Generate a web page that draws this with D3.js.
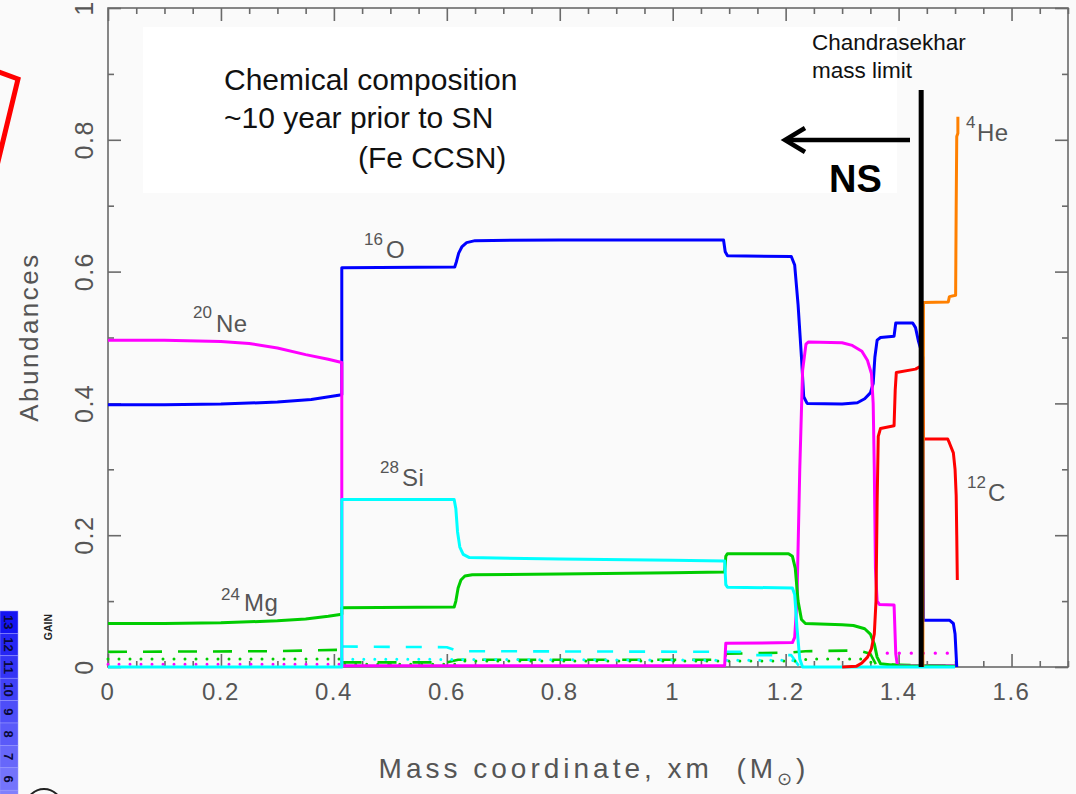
<!DOCTYPE html>
<html>
<head>
<meta charset="utf-8">
<script src="https://cdn.jsdelivr.net/npm/d3@7"></script>
<style>
  html, body { margin: 0; padding: 0; background: #fafafa; }
  svg { display: block; }
</style>
</head>
<body>
<svg id="chart" width="1076" height="794"></svg>
<script>
// Abundance profiles [mass coordinate (Msun), mass fraction]
const o16 = [[0,0.398],[0.1,0.398],[0.2,0.399],[0.3,0.402],[0.36,0.406],[0.414,0.413],[0.414,0.606],[0.614,0.607],[0.617,0.615],[0.621,0.628],[0.627,0.638],[0.635,0.644],[0.65,0.647],[0.8,0.648],[1.09,0.648],[1.093,0.63],[1.097,0.624],[1.21,0.623],[1.216,0.61],[1.222,0.55],[1.228,0.47],[1.232,0.41],[1.238,0.4],[1.3,0.399],[1.327,0.401],[1.34,0.407],[1.35,0.416],[1.355,0.43],[1.358,0.47],[1.362,0.496],[1.368,0.5],[1.392,0.502],[1.395,0.522],[1.425,0.522],[1.43,0.515],[1.435,0.495],[1.44,0.48],[1.443,0.47],[1.444,0.071],[1.49,0.071],[1.497,0.066],[1.5,0.05],[1.503,0.0]];
const ne20 = [[0,0.496],[0.1,0.496],[0.2,0.494],[0.25,0.491],[0.3,0.484],[0.35,0.474],[0.39,0.467],[0.414,0.462],[0.414,0.002],[1.092,0.002],[1.094,0.036],[1.212,0.037],[1.216,0.045],[1.22,0.1],[1.225,0.3],[1.23,0.45],[1.236,0.49],[1.24,0.493],[1.3,0.492],[1.318,0.488],[1.335,0.479],[1.345,0.465],[1.352,0.445],[1.355,0.4],[1.357,0.3],[1.359,0.15],[1.362,0.1],[1.366,0.095],[1.392,0.094],[1.395,0.02],[1.398,0.002],[1.5,0.002]];
const si28 = [[0,0.0],[0.414,0.0],[0.414,0.254],[0.613,0.254],[0.616,0.24],[0.619,0.205],[0.623,0.182],[0.629,0.171],[0.64,0.166],[0.8,0.164],[1.0,0.162],[1.092,0.161],[1.094,0.125],[1.097,0.121],[1.212,0.12],[1.216,0.11],[1.22,0.06],[1.225,0.012],[1.23,0.0],[1.5,0.0]];
const mg24 = [[0,0.066],[0.1,0.066],[0.2,0.067],[0.3,0.07],[0.35,0.073],[0.39,0.077],[0.414,0.08],[0.414,0.09],[0.613,0.091],[0.616,0.1],[0.62,0.12],[0.625,0.132],[0.632,0.138],[0.645,0.14],[0.8,0.141],[1.0,0.143],[1.092,0.144],[1.094,0.168],[1.097,0.172],[1.205,0.172],[1.212,0.168],[1.217,0.15],[1.222,0.1],[1.228,0.072],[1.235,0.066],[1.3,0.064],[1.32,0.063],[1.34,0.058],[1.35,0.05],[1.357,0.035],[1.362,0.015],[1.368,0.005],[1.4,0.002],[1.5,0.001]];
const c12 = [[1.3,0.0],[1.325,0.001],[1.335,0.006],[1.345,0.015],[1.352,0.028],[1.357,0.05],[1.36,0.1],[1.362,0.25],[1.364,0.35],[1.368,0.362],[1.392,0.366],[1.394,0.42],[1.396,0.447],[1.43,0.452],[1.438,0.456],[1.442,0.458],[1.444,0.346],[1.487,0.346],[1.49,0.34],[1.497,0.325],[1.5,0.3],[1.502,0.26],[1.503,0.2],[1.504,0.132]];
const he4 = [[1.443,0.0],[1.444,0.553],[1.488,0.554],[1.49,0.562],[1.501,0.564],[1.502,0.7],[1.503,0.805],[1.505,0.81],[1.505,0.835]];

// Trace species near the bottom of the plot
const mgDashed = [[0,0.023],[0.3,0.024],[0.41,0.026],[0.414,0.007],[0.6,0.007],[0.62,0.011],[1.09,0.011],[1.095,0.02],[1.21,0.022],[1.235,0.024],[1.33,0.025],[1.35,0.02],[1.36,0.004],[1.5,0.002]];
const mgDotted = [[0,0.012],[0.414,0.012],[0.414,0.004],[0.62,0.004],[0.63,0.009],[1.22,0.009],[1.24,0.012],[1.34,0.012],[1.36,0.003]];
const siDashed = [[0.414,0.031],[0.6,0.03],[0.62,0.024],[1.12,0.023],[1.13,0.018],[1.21,0.018],[1.225,0.0]];
const siDotted = [[0.414,0.012],[0.8,0.011],[1.22,0.01]];
const neDotted = [[0,0.004],[0.414,0.004]];
const neDotted2 = [[1.38,0.021],[1.5,0.021]];

// Axis ticks and labels
const xMajor = [0, 0.2, 0.4, 0.6, 0.8, 1, 1.2, 1.4, 1.6];
const xLabels = ["0", "0.2", "0.4", "0.6", "0.8", "1", "1.2", "1.4", "1.6"];
const xMinor = d3.range(0, 1.701, 0.05).filter(v => Math.abs(v / 0.2 - Math.round(v / 0.2)) > 1e-6);
const yMajor = [0, 0.2, 0.4, 0.6, 0.8, 1];
const yLabels = ["0", "0.2", "0.4", "0.6", "0.8", "1"];
const yMinor = [0.1, 0.3, 0.5, 0.7, 0.9];

// Gain strip on the left edge
const gainLevels = ["13", "12", "11", "10", "9", "8", "7", "6", ""];
const gainColors = ["#1414f2", "#2626f4", "#3434f5", "#4141f6", "#4e4ef8", "#5a5af9", "#6767fa", "#7474fc", "#8080fd"];

const chandraMass = 1.44;

const svg = d3.select("#chart");
const L = 108, R = 1068, T = 8, B = 667;
const x = d3.scaleLinear().domain([0, 1.7]).range([L, R]);
const y = d3.scaleLinear().domain([0, 1]).range([B, T]);

// annotation background
svg.append("rect").attr("x", 143).attr("y", 27).attr("width", 754).attr("height", 166).attr("fill", "#ffffff");

// frame
svg.append("rect").attr("x", L).attr("y", T).attr("width", R - L).attr("height", B - T)
  .attr("fill", "none").attr("stroke", "#6a6a6a").attr("stroke-width", 1.6);

function tickAxis(gen, scale, vals, size, transform) {
  const g = svg.append("g").attr("transform", transform)
    .call(gen(scale).tickValues(vals).tickSize(-size).tickFormat(""));
  g.select(".domain").remove();
  g.selectAll("line").attr("stroke", "#6a6a6a").attr("stroke-width", 1.6);
}
tickAxis(d3.axisBottom, x, xMajor, 13, `translate(0,${B})`);
tickAxis(d3.axisBottom, x, xMinor, 6, `translate(0,${B})`);
tickAxis(d3.axisTop, x, xMajor, 13, `translate(0,${T})`);
tickAxis(d3.axisTop, x, xMinor, 6, `translate(0,${T})`);
tickAxis(d3.axisLeft, y, yMajor, 13, `translate(${L},0)`);
tickAxis(d3.axisLeft, y, yMinor, 6, `translate(${L},0)`);
tickAxis(d3.axisRight, y, yMajor, 13, `translate(${R},0)`);
tickAxis(d3.axisRight, y, yMinor, 6, `translate(${R},0)`);

const labelFont = "'Liberation Sans', Arial, sans-serif";
svg.append("g").selectAll("text").data(xMajor).join("text")
  .attr("x", d => x(d)).attr("y", 700)
  .attr("text-anchor", "middle").attr("font-family", labelFont)
  .attr("font-size", 24).attr("letter-spacing", 1.5).attr("fill", "#555")
  .text((d, i) => xLabels[i]);
svg.append("g").selectAll("text").data(yMajor).join("text")
  .attr("transform", d => `translate(93,${y(d)}) rotate(-90)`)
  .attr("text-anchor", "middle").attr("font-family", labelFont)
  .attr("font-size", 25).attr("letter-spacing", 1.5).attr("fill", "#555")
  .text((d, i) => yLabels[i]);

svg.append("text").attr("transform", "translate(38,337) rotate(-90)")
  .attr("text-anchor", "middle").attr("font-family", labelFont)
  .attr("font-size", 26).attr("letter-spacing", 2.5).attr("fill", "#555")
  .text("Abundances");

const xt = svg.append("text").attr("x", 594).attr("y", 778).attr("text-anchor", "middle")
  .attr("font-family", labelFont).attr("font-size", 28).attr("letter-spacing", 4).attr("fill", "#555");
xt.append("tspan").text("Mass coordinate, xm\u00a0\u00a0(M");
xt.append("tspan").attr("font-size", 18).attr("dy", 7).text("\u2299");
xt.append("tspan").attr("dy", -7).text(")");

// curves
const line = d3.line().x(d => x(d[0])).y(d => y(d[1]));
function curve(data, color, width, dash) {
  svg.append("path").datum(data).attr("d", line)
    .attr("fill", "none").attr("stroke", color).attr("stroke-width", width)
    .attr("stroke-linejoin", "round")
    .attr("stroke-dasharray", dash || null)
    .attr("stroke-linecap", dash && dash.startsWith("0") ? "round" : "butt");
}
curve(mgDashed, "#00cc00", 2.6, "19,16");
curve(siDashed, "#00ffff", 2.6, "16,16");
curve(mgDotted, "#00cc00", 3, "0,11");
curve(siDotted, "#00ffff", 3, "0,11");
curve(neDotted, "#ff00ff", 3, "0,11");
curve(neDotted2, "#ff00ff", 3.4, "0,12");

curve(o16, "#0000ff", 3);
curve(ne20, "#ff00ff", 3);
curve(mg24, "#00cc00", 3);
curve(si28, "#00ffff", 3);
curve(c12, "#ff0000", 3);
curve(he4, "#ff8000", 3);

// species labels
function isoLabel(sup, name, sx, sy, mx, my) {
  svg.append("text").attr("x", sx).attr("y", sy).attr("font-family", labelFont)
    .attr("font-size", 17).attr("fill", "#555").text(sup);
  svg.append("text").attr("x", mx).attr("y", my).attr("font-family", labelFont)
    .attr("font-size", 24).attr("letter-spacing", 0.5).attr("fill", "#555").text(name);
}
isoLabel("16", "O", 364, 245, 386, 258);
isoLabel("20", "Ne", 193, 318, 216, 332);
isoLabel("28", "Si", 380, 473, 402, 486);
isoLabel("24", "Mg", 221, 600, 244, 611);
isoLabel("4", "He", 966, 128, 977, 141);
isoLabel("12", "C", 967, 488, 988, 501);

// Chandrasekhar limit
svg.append("line").attr("x1", x(chandraMass)).attr("x2", x(chandraMass))
  .attr("y1", 90).attr("y2", B).attr("stroke", "#000").attr("stroke-width", 5);
svg.append("line").attr("x1", 786).attr("x2", 910).attr("y1", 140).attr("y2", 140)
  .attr("stroke", "#000").attr("stroke-width", 4.5);
svg.append("path").attr("d", "M805,128 L785,140 L805,152")
  .attr("fill", "none").attr("stroke", "#000").attr("stroke-width", 4.5).attr("stroke-linejoin", "miter");

const annFont = "'Liberation Sans', Arial, sans-serif";
svg.append("text").attr("x", 812).attr("y", 50).attr("font-family", annFont).attr("font-size", 22.5).attr("fill", "#111").text("Chandrasekhar");
svg.append("text").attr("x", 812).attr("y", 78).attr("font-family", annFont).attr("font-size", 22.5).attr("fill", "#111").text("mass limit");
svg.append("text").attr("x", 829).attr("y", 192).attr("font-family", annFont).attr("font-size", 38).attr("font-weight", "bold").attr("fill", "#000").text("NS");

svg.append("text").attr("x", 224).attr("y", 90).attr("font-family", annFont).attr("font-size", 30).attr("fill", "#111").text("Chemical composition");
svg.append("text").attr("x", 224).attr("y", 128).attr("font-family", annFont).attr("font-size", 30).attr("fill", "#111").text("~10 year prior to SN");
svg.append("text").attr("x", 358).attr("y", 168).attr("font-family", annFont).attr("font-size", 30).attr("fill", "#111").text("(Fe CCSN)");

// slide decorations on the left edge
svg.append("path").attr("d", "M-4,71 L18,79 L-4,170").attr("fill", "none").attr("stroke", "#ff0000").attr("stroke-width", 5);

const cellH = 22.4;
const strip = svg.append("g");
strip.selectAll("rect").data(gainLevels).join("rect")
  .attr("x", 0).attr("y", (d, i) => 611 + i * cellH).attr("width", 18).attr("height", cellH)
  .attr("fill", (d, i) => gainColors[i]).attr("stroke", "#9a9aff").attr("stroke-width", 0.5);
strip.selectAll("text").data(gainLevels).join("text")
  .attr("transform", (d, i) => `translate(4,${611 + i * cellH + cellH / 2}) rotate(90)`)
  .attr("text-anchor", "middle").attr("font-family", annFont).attr("font-size", 13)
  .attr("font-weight", "bold").attr("fill", "#0a0a3a").text(d => d);
svg.append("text").attr("transform", "translate(52,627) rotate(-90)").attr("text-anchor", "middle")
  .attr("font-family", annFont).attr("font-size", 10.5).attr("font-weight", "bold").attr("fill", "#222").text("GAIN");
svg.append("circle").attr("cx", 44).attr("cy", 807).attr("r", 18).attr("fill", "none").attr("stroke", "#222").attr("stroke-width", 2);
</script>
</body>
</html>
